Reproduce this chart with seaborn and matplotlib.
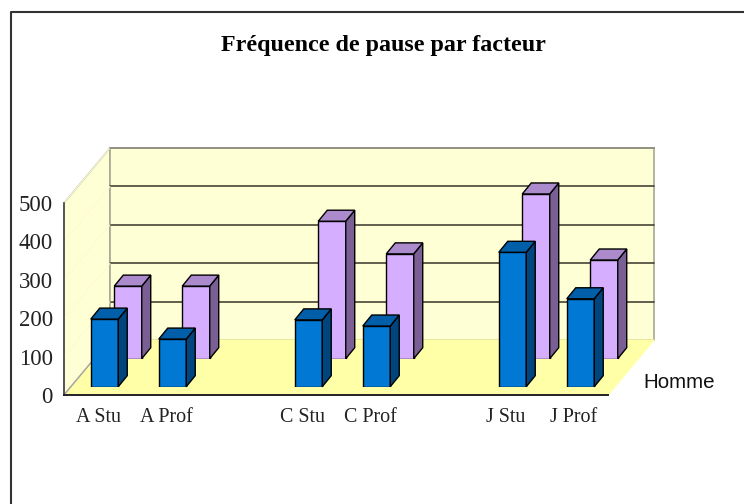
import matplotlib
matplotlib.use("Agg")
import matplotlib.pyplot as plt
from matplotlib.patches import Polygon
from matplotlib.transforms import IdentityTransform
import numpy as np
import pandas as pd
import seaborn as sns

# data, blank slots separate the groups
categories = ["A Stu", "A Prof", " ", "C Stu", "C Prof", "  ", "J Stu", "J Prof"]
front_values = [176, 124, np.nan, 174, 158, np.nan, 350, 229]
back_values = [189, 189, np.nan, 358, 273, np.nan, 429, 257]
y_ticks = [0, 100, 200, 300, 400, 500]

W, H = 744, 504

sns.set_theme(style="white")
plt.rcParams["font.family"] = ["Liberation Serif", "DejaVu Sans"]

fig = plt.figure(figsize=(W / 100, H / 100), dpi=100)


def px_axes(left, right, top, bottom):
    return fig.add_axes([left / W, 1 - bottom / H, (right - left) / W, (bottom - top) / H])


# background box: walls and floor, in pixels
box = px_axes(0, W, 0, H)
box.set_xlim(0, W)
box.set_ylim(H, 0)
box.axis("off")
wall = "#ffffd5"
box.add_patch(Polygon([(64, 203), (110, 148), (110, 340), (64, 395)], fc=wall, ec="#a0a0a0", lw=1))
box.add_patch(Polygon([(110, 148), (654, 148), (654, 340), (110, 340)], fc=wall, ec="#a8a894", lw=1.2))
box.add_patch(Polygon([(64, 395), (110, 340), (654, 340), (608, 395)], fc="#ffffa8", ec="none"))
box.plot([110, 654, 608], [340, 340, 395], color="#ffffa8", lw=1)
box.plot([64, 110], [395, 340], color="#a8a8a0", lw=1)

# axis with the tick labels on the front edge
base = px_axes(64, 608, 203, 395)
base.patch.set_alpha(0)
base.set_xlim(-0.5, 7.5)
base.set_ylim(0, 500)
base.set_xticks(range(len(categories)), categories)
base.set_yticks(y_ticks)
base.tick_params(axis="x", length=0, pad=9, labelsize=14.4, labelcolor="#222222")
base.tick_params(axis="y", length=0, pad=8, labelsize=16.5, labelcolor="#222222")
for s in ["top", "right"]:
    base.spines[s].set_visible(False)
base.spines["left"].set_color("#444444")
base.spines["bottom"].set_color("#222222")
base.spines["left"].set_linewidth(1.2)
base.spines["bottom"].set_linewidth(1.4)

# gridlines on the back wall and faint ones on the left wall
for t in y_ticks[1:-1] + [y_ticks[-1]]:
    y = 395 - t * 0.384
    box.plot([110, 654], [y - 55, y - 55], color="#444436", lw=1.2, zorder=3)
    box.plot([64, 110], [y, y - 55], color="#fcfcd0", lw=0.8, zorder=3)
box.plot([110, 654], [148, 148], color="#a0a090", lw=1.2, zorder=4)


def draw_bars(values, color, side, top, left, base_y):
    ax = px_axes(left, left + 544, base_y - 192, base_y)
    df = pd.DataFrame({"cat": categories, "val": values})
    sns.barplot(data=df, x="cat", y="val", order=categories, color=color, saturation=1,
                width=0.404, errorbar=None, edgecolor="black", linewidth=1, ax=ax)
    ax.set_ylim(0, 500)
    ax.axis("off")
    ax.patch.set_alpha(0)
    # depth faces of each bar
    fig.canvas.draw()
    dx, dy = 9, 11
    for p in list(ax.patches):
        if not np.isfinite(p.get_height()):
            continue
        b = p.get_window_extent()
        x0, x1, y0, y1 = b.x0, b.x1, b.y0, b.y1
        ax.add_patch(Polygon([(x1, y0), (x1 + dx, y0 + dy), (x1 + dx, y1 + dy), (x1, y1)],
                             fc=side, ec="black", lw=1, transform=IdentityTransform(), clip_on=False))
        ax.add_patch(Polygon([(x0, y1), (x0 + dx, y1 + dy), (x1 + dx, y1 + dy), (x1, y1)],
                             fc=top, ec="black", lw=1, transform=IdentityTransform(), clip_on=False))
    return ax


draw_bars(back_values, "#d6aeff", "#7a5f94", "#ab8bcc", 94, 358.7)
draw_bars(front_values, "#0078d4", "#00457e", "#005fa8", 70.5, 386.7)

fig.text(383.5 / W, 1 - 46 / H, "Fréquence de pause par facteur", ha="center", va="center",
         fontsize=17.3, fontweight="bold", color="black")
fig.text(679 / W, 1 - 382 / H, "Homme", ha="center", va="center", fontsize=14.8,
         family="Liberation Sans", color="#111111")

# chart frame runs off the right and bottom of the image
fig.add_artist(plt.Line2D([10.5 / W, 10.5 / W, 1], [0, 1 - 11.5 / H, 1 - 11.5 / H],
                          color="#333333", lw=1.5))

fig.savefig("out.png", dpi=100)
